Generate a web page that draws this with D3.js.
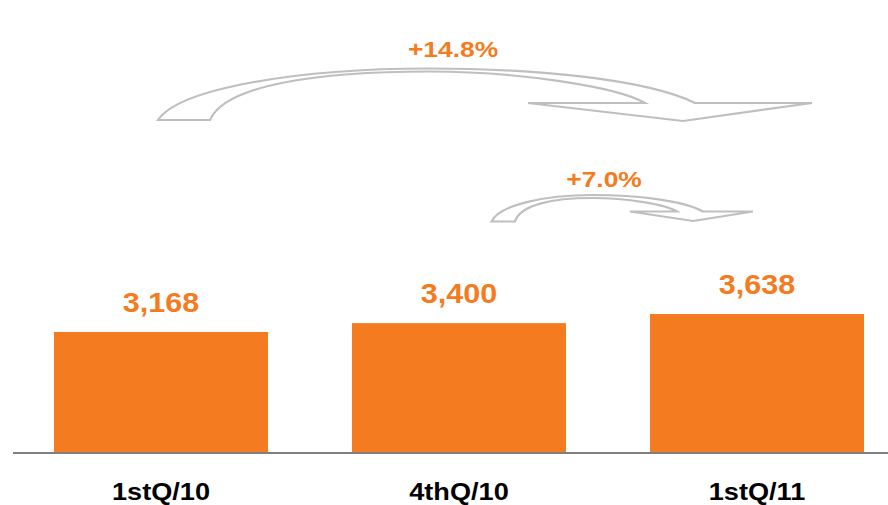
<!DOCTYPE html>
<html>
<head>
<meta charset="utf-8">
<script src="https://cdn.jsdelivr.net/npm/d3@7"></script>
<style>
  html, body { margin: 0; padding: 0; background: #fff; }
  svg { display: block; font-family: "Liberation Sans", Arial, Helvetica, sans-serif; }
</style>
</head>
<body>
<svg id="chart" width="888" height="505"></svg>
<script>
// Quarterly values
const categories = ["1stQ/10", "4thQ/10", "1stQ/11"];
const values = [3168, 3400, 3638];
const valueLabels = ["3,168", "3,400", "3,638"];
const growthLabels = ["+14.8%", "+7.0%"];

const ORANGE = "#F47B20";
const ARROW_STROKE = "#BFBFBF";

const svg = d3.select("#chart");
const baseY = 453;

const x = d3.scaleBand()
  .domain(categories)
  .range([54, 864])
  .paddingInner(0.282)
  .paddingOuter(0);

const y = d3.scaleLinear()
  .domain([0, 4000])
  .range([baseY, baseY - 152.8]);

// Bars
svg.append("g")
  .selectAll("rect")
  .data(values)
  .join("rect")
  .attr("x", (d, i) => x(categories[i]))
  .attr("width", x.bandwidth())
  .attr("y", d => y(d))
  .attr("height", d => y(0) - y(d))
  .attr("fill", ORANGE);

// Baseline
svg.append("line")
  .attr("x1", 13).attr("x2", 888)
  .attr("y1", y(0)).attr("y2", y(0))
  .attr("stroke", "#7F7F7F")
  .attr("stroke-width", 2);

// Horizontally stretched text helper
function stretchedText(g, cx, cy, txt, size, sx, color) {
  g.append("text")
    .attr("transform", `translate(${cx},${cy}) scale(${sx},1)`)
    .attr("text-anchor", "middle")
    .attr("font-size", size)
    .attr("font-weight", "bold")
    .attr("fill", color)
    .text(txt);
}

// Value labels above bars
const labels = svg.append("g");
values.forEach((v, i) => {
  stretchedText(labels, x(categories[i]) + x.bandwidth() / 2, y(v) - 20,
    valueLabels[i], 27.5, 1.11, ORANGE);
});

// Category labels
const cats = svg.append("g");
categories.forEach(c => {
  stretchedText(cats, x(c) + x.bandwidth() / 2, 500, c, 23, 1.18, "#000");
});

// Curved growth arrows (tail on the left, head pointing down on the right)
function curvedArrow(p) {
  const { xa, xb, yb, yt, xt, yti, xo, xi, ybb, xl, xr, tx, ty } = p;
  const path = d3.path();
  path.moveTo(xa, yb);
  // outer edge, rising to the top
  path.bezierCurveTo(xa + 0.08 * (xt - xa), yb - 0.62 * (yb - yt),
                     xt - 0.48 * (xt - xa), yt,
                     xt, yt);
  // outer edge, falling to the head
  path.bezierCurveTo(xt + 0.41 * (xo - xt), yt,
                     xo - 0.18 * (xo - xt), yt + 0.32 * (ybb - yt),
                     xo, ybb);
  // arrow head
  path.lineTo(xr, ybb);
  path.lineTo(tx, ty);
  path.lineTo(xl, ybb);
  path.lineTo(xi, ybb);
  // inner edge back to the tail
  path.bezierCurveTo(xi - 0.13 * (xi - xt), yti + 0.48 * (ybb - yti),
                     xt + 0.41 * (xi - xt), yti,
                     xt, yti);
  path.bezierCurveTo(xt - 0.5 * (xt - xb), yti,
                     xb + 0.07 * (xt - xb), yti + 0.27 * (yb - yti),
                     xb, yb);
  path.closePath();
  return path.toString();
}

const arrows = [
  { xa: 158, xb: 210, yb: 120, yt: 68.5, xt: 429, yti: 71.5, xo: 695, xi: 645,
    ybb: 103, xl: 528, xr: 812, tx: 683, ty: 121, label: growthLabels[0], lx: 453, ly: 57 },
  { xa: 491.5, xb: 515, yb: 221.5, yt: 195, xt: 592, yti: 198, xo: 703, xi: 677,
    ybb: 211.5, xl: 630, xr: 753, tx: 693, ty: 221, label: growthLabels[1], lx: 604, ly: 187 }
];

const ag = svg.append("g");
arrows.forEach(a => {
  ag.append("path")
    .attr("d", curvedArrow(a))
    .attr("fill", "#fff")
    .attr("stroke", ARROW_STROKE)
    .attr("stroke-width", 2.2)
    .attr("stroke-linejoin", "miter");
  stretchedText(ag, a.lx, a.ly, a.label, 22, 1.2, ORANGE);
});
</script>
</body>
</html>
